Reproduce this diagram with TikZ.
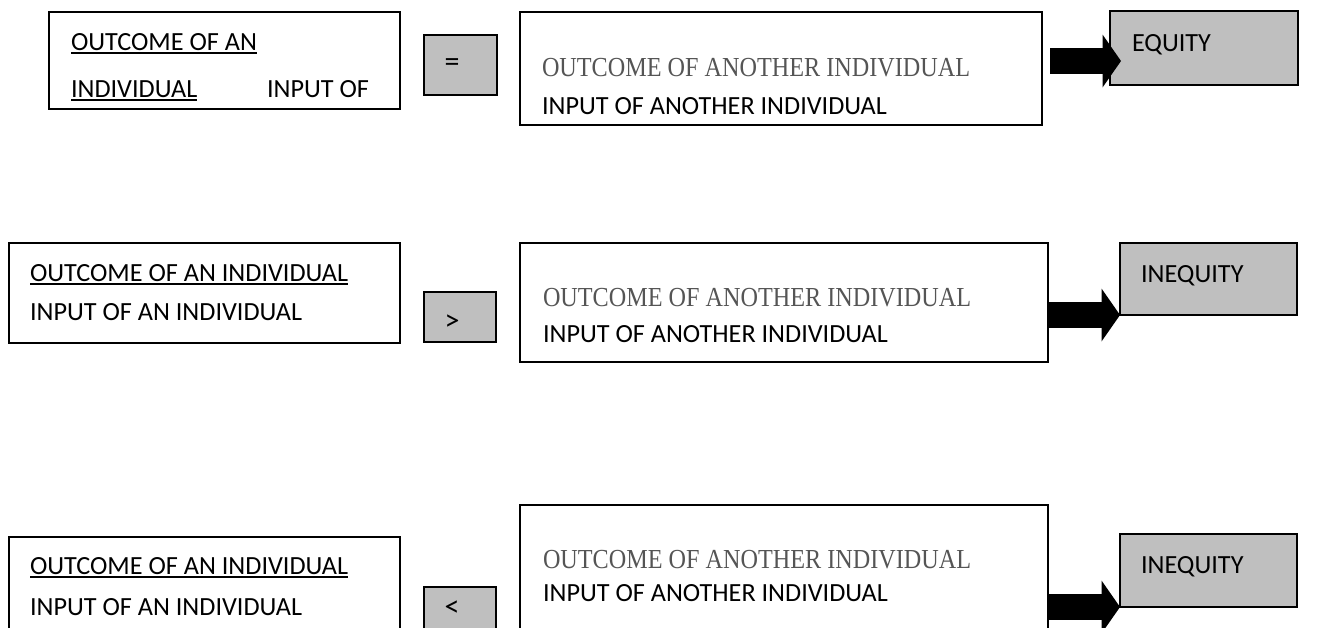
\documentclass[tikz,border=0pt]{standalone}
\usepackage{fontspec}
\setmainfont{Carlito}
\newfontfamily\grayserif[FakeStretch=0.88]{Liberation Serif}
\definecolor{boxgray}{HTML}{BFBFBF}
\definecolor{txtgray}{HTML}{555555}
\newcommand{\myul}[1]{\setbox0\hbox{#1}\rlap{\rule[-3.6pt]{\wd0}{1.8pt}}\box0}
\begin{document}
\begin{tikzpicture}[x=1pt,y=-1pt,
  every node/.style={inner sep=0pt,outer sep=0pt},
  wbox/.style={draw=black,line width=1.5pt,fill=white,rectangle,anchor=north west},
  gbox/.style={draw=black,line width=1.5pt,fill=boxgray,rectangle,anchor=north west},
  sanstxt/.style={font=\fontsize{26.2}{30}\selectfont,anchor=base west},
  seriftxt/.style={font=\grayserif\fontsize{27.5}{30}\selectfont,text=txtgray,anchor=base west},
  optxt/.style={font=\fontsize{30}{32}\selectfont,anchor=center},
  pics/blockarrow/.style={code={
    \fill[black] (0,0) -- (-18.5,-26.5) -- (-18.5,-12.8) -- (-#1,-12.8)
      -- (-#1,12.8) -- (-18.5,12.8) -- (-18.5,26.5) -- cycle;}}]
\clip (0,0) rectangle (1329,627);
\fill[white] (0,0) rectangle (1329,627);

% ---------- row 1 ----------
\node[wbox,minimum width=351pt,minimum height=97pt] (a1) at (49,12) {};
\node[sanstxt] (a1l1) at (71,50) {\myul{OUTCOME OF AN}};
\node[sanstxt] (a1l2) at (71,97) {\myul{INDIVIDUAL}};
\node[sanstxt] (a1l3) at (267,97) {INPUT OF};
\node[gbox,minimum width=73pt,minimum height=60pt] (op1) at (424,35) {};
\node[optxt] (op1t) at (452,65) {=};
\node[wbox,minimum width=522pt,minimum height=113pt] (b1) at (520,12) {};
\node[seriftxt] (b1l1) at (542,76) {OUTCOME OF ANOTHER INDIVIDUAL};
\node[sanstxt] (b1l2) at (542,114) {INPUT OF ANOTHER INDIVIDUAL};
\node[gbox,minimum width=188pt,minimum height=74pt] (e1) at (1110,11) {};
\node[sanstxt] (e1t) at (1132,51) {EQUITY};
\coordinate (t1) at (1121,61);
\pic at (t1) {blockarrow=71};

% ---------- row 2 ----------
\node[wbox,minimum width=391pt,minimum height=100pt] (a2) at (9,243) {};
\node[sanstxt] (a2l1) at (30,281) {\myul{OUTCOME OF AN INDIVIDUAL}};
\node[sanstxt] (a2l2) at (30,320) {INPUT OF AN INDIVIDUAL};
\node[gbox,minimum width=72pt,minimum height=50pt] (op2) at (424,292) {};
\node[optxt] (op2t) at (452,323) {>};
\node[wbox,minimum width=528pt,minimum height=119pt] (b2) at (520,243) {};
\node[seriftxt] (b2l1) at (543,306) {OUTCOME OF ANOTHER INDIVIDUAL};
\node[sanstxt] (b2l2) at (543,342) {INPUT OF ANOTHER INDIVIDUAL};
\node[gbox,minimum width=177pt,minimum height=72pt] (e2) at (1120,243) {};
\node[sanstxt] (e2t) at (1141,282) {INEQUITY};
\pic at (e2.south west) {blockarrow=72};

% ---------- row 3 ----------
\node[wbox,minimum width=391pt,minimum height=160pt] (a3) at (9,537) {};
\node[sanstxt] (a3l1) at (30,574) {\myul{OUTCOME OF AN INDIVIDUAL}};
\node[sanstxt] (a3l2) at (30,615) {INPUT OF AN INDIVIDUAL};
\node[gbox,minimum width=72pt,minimum height=110pt] (op3) at (424,587) {};
\node[optxt] (op3t) at (452,609) {<};
\node[wbox,minimum width=528pt,minimum height=200pt] (b3) at (520,505) {};
\node[seriftxt] (b3l1) at (543,568) {OUTCOME OF ANOTHER INDIVIDUAL};
\node[sanstxt] (b3l2) at (543,601) {INPUT OF ANOTHER INDIVIDUAL};
\node[gbox,minimum width=177pt,minimum height=73pt] (e3) at (1120,534) {};
\node[sanstxt] (e3t) at (1141,573) {INEQUITY};
\pic at (e3.south west) {blockarrow=72};
\end{tikzpicture}
\end{document}
